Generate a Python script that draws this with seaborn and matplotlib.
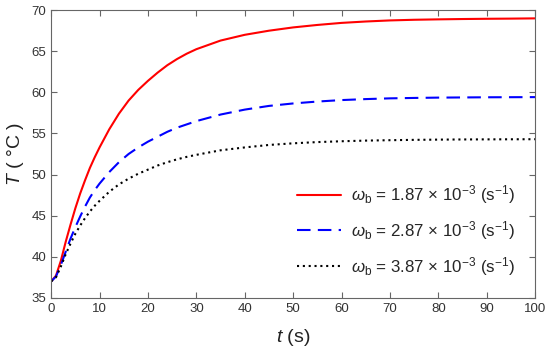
import matplotlib
matplotlib.use("Agg")
import matplotlib.pyplot as plt
import seaborn as sns
import pandas as pd

# values
t = [0, 1, 2, 3, 4, 5, 6, 7, 8, 9, 10, 12, 14, 16, 18, 20, 22, 24, 26, 28, 30,
     35, 40, 45, 50, 55, 60, 65, 70, 75, 80, 85, 90, 95, 100]
T_187 = [37.0, 37.7, 39.5, 41.8, 43.9, 45.9, 47.7, 49.3, 50.8, 52.1, 53.3, 55.5, 57.4, 59.0, 60.3,
         61.4, 62.4, 63.3, 64.05, 64.7, 65.25, 66.3, 67.0, 67.5, 67.9, 68.2, 68.45, 68.62, 68.75,
         68.83, 68.88, 68.92, 68.95, 68.97, 69.0]
T_287 = [37.0, 37.6, 39.0, 40.6, 42.2, 43.6, 44.9, 46.1, 47.2, 48.1, 48.9, 50.3, 51.5, 52.5, 53.3,
         54.0, 54.6, 55.2, 55.7, 56.1, 56.5, 57.3, 57.9, 58.35, 58.65, 58.88, 59.06, 59.18, 59.27,
         59.32, 59.36, 59.38, 59.4, 59.41, 59.42]
T_387 = [37.0, 37.5, 38.8, 40.3, 41.6, 42.8, 43.8, 44.7, 45.5, 46.2, 46.8, 47.9, 48.8, 49.5, 50.1,
         50.6, 51.1, 51.5, 51.85, 52.15, 52.4, 52.95, 53.3, 53.6, 53.8, 53.95, 54.05, 54.13, 54.18,
         54.22, 54.25, 54.27, 54.28, 54.29, 54.3]

labels = [
    r"$\omega_\mathrm{b}$ = 1.87 × 10$^{-3}$ (s$^{-1}$)",
    r"$\omega_\mathrm{b}$ = 2.87 × 10$^{-3}$ (s$^{-1}$)",
    r"$\omega_\mathrm{b}$ = 3.87 × 10$^{-3}$ (s$^{-1}$)",
]
colors = ["#ff0000", "#0000ff", "#000000"]
styles = ["-", (0, (6.5, 3.5)), (0, (1, 1.8))]

sns.set_theme(style="ticks")
plt.rcParams["font.family"] = ["Liberation Sans", "DejaVu Sans"]
plt.rcParams["mathtext.fontset"] = "custom"
plt.rcParams["mathtext.rm"] = "Liberation Sans"
plt.rcParams["mathtext.it"] = "Liberation Sans:italic"

fig = plt.figure(figsize=(5.5, 3.5), dpi=100)
ax = fig.add_axes([0.093, 0.149, 0.88, 0.822])

for vals, lab, c, ls in zip([T_187, T_287, T_387], labels, colors, styles):
    df = pd.DataFrame({"t": t, "T": vals})
    sns.lineplot(data=df, x="t", y="T", color=c, linestyle=ls, linewidth=1.5,
                 label=lab, ax=ax)

ax.set_xlim(0, 100)
ax.set_ylim(35, 70)
ax.set_xticks(range(0, 101, 10))
ax.set_yticks(range(35, 71, 5))

for side in ["top", "right", "left", "bottom"]:
    ax.spines[side].set_visible(True)
    ax.spines[side].set_color("#666666")
    ax.spines[side].set_linewidth(0.8)
ax.tick_params(direction="in", top=True, right=True, length=4, width=0.8,
               color="#666666", labelcolor="#333333", labelsize=9.5)

ax.set_xlabel(r"$t$ (s)", fontsize=14, color="#222222", labelpad=9)
ax.set_ylabel(r"$T$ ( °C )", fontsize=14, color="#222222", labelpad=4)

leg = ax.legend(loc="lower right", frameon=False, fontsize=12.2,
                handlelength=2.6, handletextpad=0.6, labelspacing=0.75,
                borderaxespad=0.8)

fig.savefig("out.png", dpi=100)
